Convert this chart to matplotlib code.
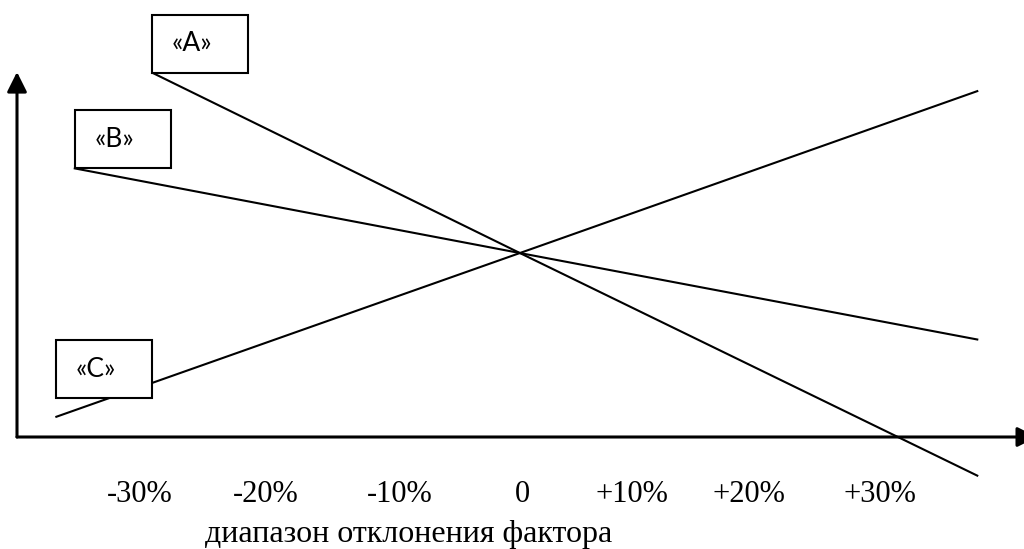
import matplotlib
matplotlib.use("Agg")
import matplotlib.pyplot as plt
from matplotlib.patches import Rectangle

# factor deviation, % (x) and result index, base = 100 (y)
x_a = [-29.9, 0, 37.2]
y_a = [198, 100, -21]
x_b = [-36.2, 0, 37.2]
y_b = [146, 100, 53]
x_c = [-37.7, 0, 37.2]
y_c = [11, 100, 188]

names = ["«A»", "«B»", "«C»"]
tick_pos = [-30.9, -20.7, -9.8, 0.2, 9.1, 18.6, 29.3]
tick_labels = ["-30%", "-20%", "-10%", "0", "+10%", "+20%", "+30%"]
xlabel = "диапазон отклонения фактора"

fig = plt.figure(figsize=(10.24, 5.49), dpi=100)
ax = fig.add_axes([17/1024, 112/549, 1007/1024, 365/549])
ax.set_xlim(-40.9, 41.0)
ax.set_ylim(0, 198.4)
for s in ax.spines.values():
    s.set_visible(False)

for xs, ys in [(x_a, y_a), (x_b, y_b), (x_c, y_c)]:
    ax.plot(xs, ys, color="black", lw=1.5, clip_on=False, zorder=2)

# label boxes: A and B hang off the start of their lines, C sits above its line
box_w, box_h = 7.8, 31.5
corners = [(x_a[0], y_a[0]), (x_b[0], y_b[0]), (-37.7, 21.2)]
for (bx, by), name in zip(corners, names):
    ax.add_patch(Rectangle((bx, by), box_w, box_h, facecolor="white",
                           edgecolor="black", lw=1.5, clip_on=False, zorder=3))
    ax.text(bx + 1.6, by + box_h/2, name, family="Lato", fontsize=19,
            ha="left", va="center", zorder=4)

# axes with arrow heads
arrow = dict(arrowstyle="-|>", lw=2.2, color="black", mutation_scale=30,
             shrinkA=0, shrinkB=0)
ax.annotate("", xy=(0, 1), xytext=(0, 0), xycoords="axes fraction",
            arrowprops=arrow)
ax.annotate("", xy=(1.013, 0), xytext=(0, 0), xycoords="axes fraction",
            arrowprops=arrow)

ax.set_yticks([])
ax.set_xticks(tick_pos, tick_labels)
ax.tick_params(axis="x", length=0, pad=31)
for t in ax.get_xticklabels():
    t.set_family("Liberation Serif")
    t.set_fontsize(22)

ax.text(0.389, -0.288, xlabel, transform=ax.transAxes, ha="center",
        va="baseline", family="Liberation Serif", fontsize=23)

fig.savefig("out.png", dpi=100)
